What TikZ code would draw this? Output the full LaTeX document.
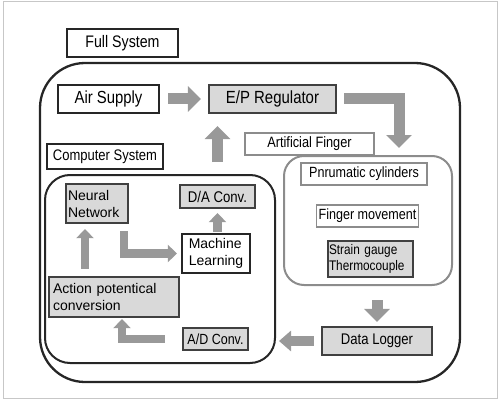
\documentclass[tikz,border=0pt]{standalone}
\usepackage{fontspec}
\setmainfont{Liberation Sans}
\newfontfamily\narrowfont[FakeStretch=0.85]{Liberation Sans}
\usetikzlibrary{arrows.meta, calc}

\begin{document}
\begin{tikzpicture}[x=1pt, y=-1pt, line join=miter,
        blk/.style={draw=black!85, line width=2.2pt, fill=white, inner sep=2pt},
        gry/.style={blk, draw=black!75, fill=black!15},
        thin/.style={draw=black!45, line width=1.4pt, fill=white, inner sep=2pt},
        grp/.style={draw=black!85, line width=2.3pt, rounded corners=#1},
        flow/.style={draw=black!40, line width=11pt, -{Triangle[length=13pt, width=25pt]}},
        inflow/.style={draw=black!40, line width=8.5pt, -{Triangle[length=9pt, width=17pt]}}]
    \useasboundingbox (0,0) rectangle (500,401);
    \draw[black!22, line width=1pt] (3,2) rectangle (497,398);

    % groups
    \node[grp=45pt, minimum width=420pt, minimum height=319pt] (full) at (250,222.5) {};
    \node[grp=20pt, draw=black!45, line width=2pt, minimum width=168pt, minimum height=129pt] (finger) at (368,220.5) {};
    \node[grp=25pt, line width=2pt, minimum width=230pt, minimum height=188pt] (compsys) at (160,269) {};

    \node[blk, minimum width=111pt, minimum height=28pt, font=\narrowfont\fontsize{16.7}{19}\selectfont] (fulllbl) at (122.5,43) {Full System};
    \node[blk, minimum width=101pt, minimum height=28pt, font=\narrowfont\fontsize{17.5}{20}\selectfont] (air) at (108.5,99) {Air Supply};
    \node[gry, minimum width=127pt, minimum height=28pt, font=\narrowfont\fontsize{17.6}{20}\selectfont] (ep) at (272.5,99) {E/P Regulator};

    % artificial finger
    \node[thin, minimum width=129pt, minimum height=22pt, font=\narrowfont\fontsize{15}{17}\selectfont] (fingerlbl) at (309.5,144) {Artificial Finger};
    \node[thin, minimum width=126pt, minimum height=22pt, font=\narrowfont\fontsize{14.8}{17}\selectfont] (cyl) at (364,174) {Pnrumatic cylinders};
    \node[thin, minimum width=101pt, minimum height=22pt, font=\narrowfont\fontsize{14.8}{17}\selectfont] (move) at (367.5,216) {Finger movement};
    \node[gry, line width=2pt, inner xsep=1pt, minimum height=36pt, text width=83pt, align=left, font=\narrowfont\fontsize{13.9}{16.5}\selectfont] (sensor) at (370.5,259) {Strain gauge\\Thermocouple};
    \node[gry, minimum width=110pt, minimum height=28pt, font=\narrowfont\fontsize{15.4}{18}\selectfont] (logger) at (377,341) {Data Logger};

    % computer system
    \node[blk, minimum width=116pt, minimum height=25pt, font=\narrowfont\fontsize{15.3}{18}\selectfont] (complbl) at (105,156.5) {Computer System};
    \node[gry, minimum height=39pt, text width=58pt, align=left, font=\fontsize{14}{17}\selectfont] (nn) at (97,203.5) {Neural\\Network};
    \node[gry, minimum width=75pt, minimum height=23pt, font=\narrowfont\fontsize{15.5}{18}\selectfont] (dac) at (217.5,196.5) {D/A Conv.};
    \node[blk, minimum width=68pt, minimum height=39pt, align=left, font=\fontsize{14}{17}\selectfont] (ml) at (216,253.5) {Machine\\Learning};
    \node[gry, inner xsep=4pt, minimum height=40pt, text width=122pt, align=left, font=\fontsize{14}{17}\selectfont] (apc) at (114,297) {Action potentical\\conversion};
    \node[gry, minimum width=65pt, minimum height=22pt, font=\narrowfont\fontsize{14.7}{17}\selectfont] (adc) at (215.5,339) {A/D Conv.};

    % flows
    \draw[flow, shorten <=8pt, shorten >=7pt] (air) -- (ep);
    \draw[flow, shorten <=7pt, shorten >=7pt] (ep.east) -| ([xshift=31pt]finger.north);
    \draw[flow, shorten <=12pt, shorten >=12pt] (compsys.north -| dac) -- (ep.south -| dac);
    \draw[flow, shorten <=14pt, shorten >=4pt] (finger.south -| logger) -- (logger.north);
    \draw[flow, line width=10pt, -{Triangle[length=12pt, width=20pt]}, shorten <=7pt, shorten >=3pt] (logger.west) -- (logger.west -| compsys.east);
    \draw[inflow, shorten <=17pt, shorten >=1pt] (adc.west) -| ([xshift=8pt]apc.south);
    \draw[inflow, shorten <=7pt, shorten >=5pt] ([xshift=-12pt]nn.south |- apc.north) -- ([xshift=-12pt]nn.south);
    \draw[inflow, shorten <=7pt, shorten >=4pt] ([xshift=27pt]nn.south) |- (ml.west);
    \draw[inflow, shorten <=1pt, shorten >=4pt] (ml.north -| dac) -- (dac.south);
\end{tikzpicture}
\end{document}
